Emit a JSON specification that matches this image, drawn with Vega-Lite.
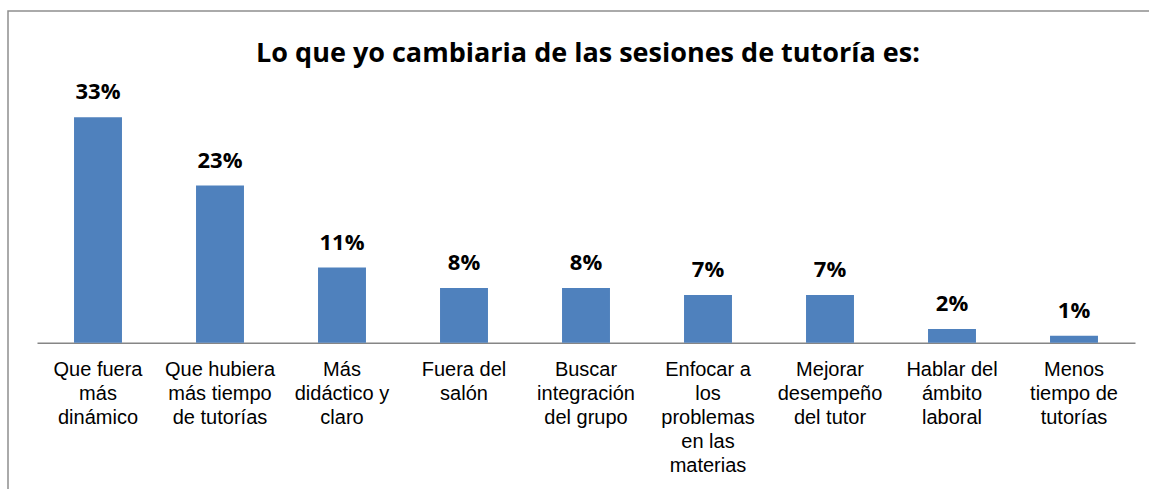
{
  "$schema": "https://vega.github.io/schema/vega-lite/v6.json",
  "autosize": {"type": "none"},
  "padding": {"left": 8, "top": 11, "right": 0, "bottom": 0},
  "width": 1160,
  "height": 490,
  "background": "white",
  "title": {
    "text": "Lo que yo cambiaria de las sesiones de tutoría es:",
    "font": "Open Sans",
    "fontSize": 27,
    "fontWeight": "bold",
    "color": "black",
    "anchor": "middle",
    "dy": 61
  },
  "data": {
    "values": [
      {"cat": "Que fuera|más|dinámico", "value": 33, "label": "33%"},
      {"cat": "Que hubiera|más tiempo|de tutorías", "value": 23, "label": "23%"},
      {"cat": "Más|didáctico y|claro", "value": 11, "label": "11%"},
      {"cat": "Fuera del|salón", "value": 8, "label": "8%"},
      {"cat": "Buscar|integración|del grupo", "value": 8, "label": "8%"},
      {"cat": "Enfocar a|los|problemas|en las|materias", "value": 7, "label": "7%"},
      {"cat": "Mejorar|desempeño|del tutor", "value": 7, "label": "7%"},
      {"cat": "Hablar del|ámbito|laboral", "value": 2, "label": "2%"},
      {"cat": "Menos|tiempo de|tutorías", "value": 1, "label": "1%"}
    ]
  },
  "encoding": {
    "x": {
      "field": "cat",
      "type": "nominal",
      "sort": null,
      "scale": {"range": [29, 1127], "paddingInner": 0.607, "paddingOuter": 0.3035},
      "axis": {
        "title": null,
        "labelAngle": 0,
        "labelExpr": "split(datum.label, '|')",
        "labelFont": "Liberation Sans",
        "labelFontSize": 20,
        "labelLineHeight": 24,
        "labelColor": "black",
        "labelLimit": 300,
        "labelPadding": 17,
        "ticks": false,
        "domainColor": "#868686",
        "domainWidth": 1.5,
        "offset": -158.3,
        "grid": false
      }
    },
    "y": {
      "field": "value",
      "type": "quantitative",
      "scale": {"domain": [0, 33], "range": [331.7, 106.3], "nice": false, "zero": true},
      "axis": null
    }
  },
  "layer": [
    {"mark": {"type": "bar", "color": "#4F81BD"}},
    {
      "mark": {"type": "text", "font": "Open Sans", "fontSize": 22, "fontWeight": "bold", "color": "black", "baseline": "alphabetic", "dy": -18},
      "encoding": {"text": {"field": "label"}}
    }
  ],
  "config": {
    "view": {"stroke": "#8E8E8E", "strokeWidth": 1.5}
  }
}
